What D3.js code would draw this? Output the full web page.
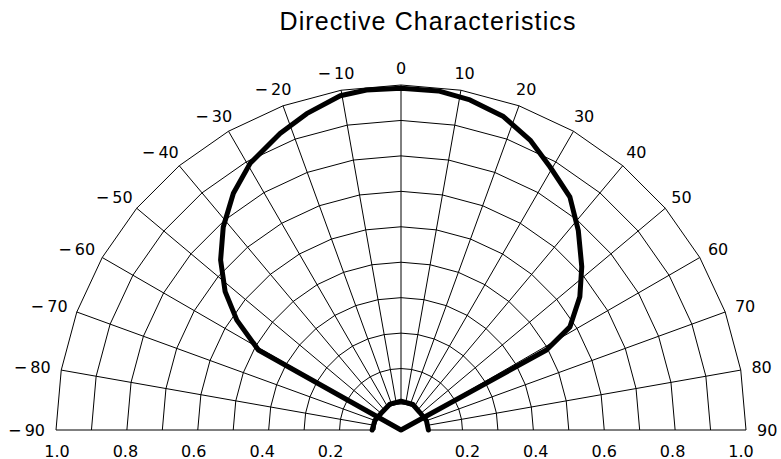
<!DOCTYPE html>
<html>
<head>
<meta charset="utf-8">
<script src="https://cdn.jsdelivr.net/npm/d3@7"></script>
<style>
  html, body { margin: 0; padding: 0; background: #fff; }
  svg { display: block; }
</style>
</head>
<body>
<svg id="chart" width="781" height="459"></svg>
<script>
// ---- data ----
const title = "Directive Characteristics";
const gridAngles = [-90, -80, -70, -60, -50, -40, -30, -20, -10, 0, 10, 20, 30, 40, 50, 60, 70, 80, 90];
const gridRings = [0.1, 0.2, 0.3, 0.4, 0.5, 0.6, 0.7, 0.8, 0.9, 1.0];
const radialTickValues = [1.0, 0.8, 0.6, 0.4, 0.2];
const radialTickLabels = ["1.0", "0.8", "0.6", "0.4", "0.2"];

// main (front) lobe: angle in degrees, relative response
const mainAngles = [-90, -60.7, -56.2, -51.8, -46.7, -41.2, -35.3, -29.5, -22.2, -16.6, -10.3, -5.8, 0,
                    6.3, 11.8, 18.1, 24, 29.5, 35.9, 41.6, 47.9, 53.3, 58.6, 61.2, 90];
const mainValues = [0, 0.488, 0.584, 0.658, 0.726, 0.788, 0.845, 0.891, 0.930, 0.958, 0.985, 0.991, 0.991,
                    0.989, 0.978, 0.957, 0.922, 0.880, 0.839, 0.780, 0.714, 0.656, 0.585, 0.495, 0];

// small rear lobe
const rearAngles = [-90, -70, -50, -23, 0, 25, 48, 70, 90];
const rearValues = [0.108, 0.105, 0.100, 0.106, 0.108, 0.106, 0.099, 0.103, 0.104];

// ---- layout ----
const svg = d3.select("#chart");
const cx = 401, cy = 430;
const rScale = d3.scaleLinear().domain([0, 0.1, 1]).range([0, 26, 345]);
const tickScale = d3.scaleLinear().domain([0, 1]).range([0, 342]);
const rad = d => d * Math.PI / 180;
const px = (a, v) => cx + rScale(v) * Math.sin(rad(a));
const py = (a, v) => cy - rScale(v) * Math.cos(rad(a));

const g = svg.append("g");

// title
svg.append("text")
  .attr("x", 428).attr("y", 29.5)
  .attr("text-anchor", "middle")
  .attr("font-family", "'Liberation Sans', Arial, sans-serif")
  .attr("font-size", 25)
  .attr("letter-spacing", 1.1)
  .attr("fill", "#000")
  .text(title);

// grid rings (polygonal, vertices on spokes)
const ringLine = d3.line().x(d => d[0]).y(d => d[1]);
g.selectAll("path.ring").data(gridRings).join("path")
  .attr("class", "ring")
  .attr("d", v => ringLine(gridAngles.map(a => [px(a, v), py(a, v)])))
  .attr("fill", "none").attr("stroke", "#000").attr("stroke-width", 1);

// spokes
g.selectAll("line.spoke").data(gridAngles).join("line")
  .attr("class", "spoke")
  .attr("x1", a => px(a, 0.1)).attr("y1", a => py(a, 0.1))
  .attr("x2", a => px(a, 1)).attr("y2", a => py(a, 1))
  .attr("stroke", "#000").attr("stroke-width", 1);

// angle labels: nearest edge of the label box sits just outside the outer ring
const labelR = rScale(1) + 11;
const labelH = 12;
const angLabels = g.selectAll("text.ang").data(gridAngles).join("text")
  .attr("class", "ang")
  .attr("text-anchor", "middle")
  .attr("dominant-baseline", "central")
  .attr("font-family", "'DejaVu Sans', sans-serif")
  .attr("font-size", 16)
  .attr("fill", "#000")
  .text(a => a < 0 ? "\u2212\u2009" + Math.abs(a) : String(a));
angLabels.each(function (a) {
  const w = this.getComputedTextLength();
  const s = Math.sin(rad(a)), c = Math.cos(rad(a));
  const x = cx + labelR * s + s * w / 2;
  const y = cy - labelR * c - c * labelH / 2;
  d3.select(this).attr("x", x).attr("y", y);
});

// radial tick labels along the baseline (both sides)
const tickData = [];
radialTickValues.forEach((v, i) => {
  tickData.push({ v, side: -1, label: radialTickLabels[i] });
  tickData.push({ v, side: 1, label: radialTickLabels[i] });
});
g.selectAll("text.rt").data(tickData).join("text")
  .attr("class", "rt")
  .attr("x", d => cx - 2 + d.side * tickScale(d.v))
  .attr("y", 451)
  .attr("text-anchor", "middle")
  .attr("dominant-baseline", "central")
  .attr("font-family", "'DejaVu Sans', sans-serif")
  .attr("font-size", 16)
  .attr("fill", "#000")
  .text(d => d.label);

// data curves
const radial = d3.lineRadial()
  .angle(d => rad(d[0]))
  .radius(d => rScale(d[1]));

const curves = g.append("g").attr("transform", `translate(${cx},${cy})`);
curves.append("path")
  .attr("d", radial(mainAngles.map((a, i) => [a, mainValues[i]])))
  .attr("fill", "none").attr("stroke", "#000").attr("stroke-width", 5)
  .attr("stroke-linejoin", "round").attr("stroke-linecap", "round");
curves.append("path")
  .attr("d", radial(rearAngles.map((a, i) => [a, rearValues[i]])))
  .attr("fill", "none").attr("stroke", "#000").attr("stroke-width", 5)
  .attr("stroke-linejoin", "round").attr("stroke-linecap", "round");
</script>
</body>
</html>
